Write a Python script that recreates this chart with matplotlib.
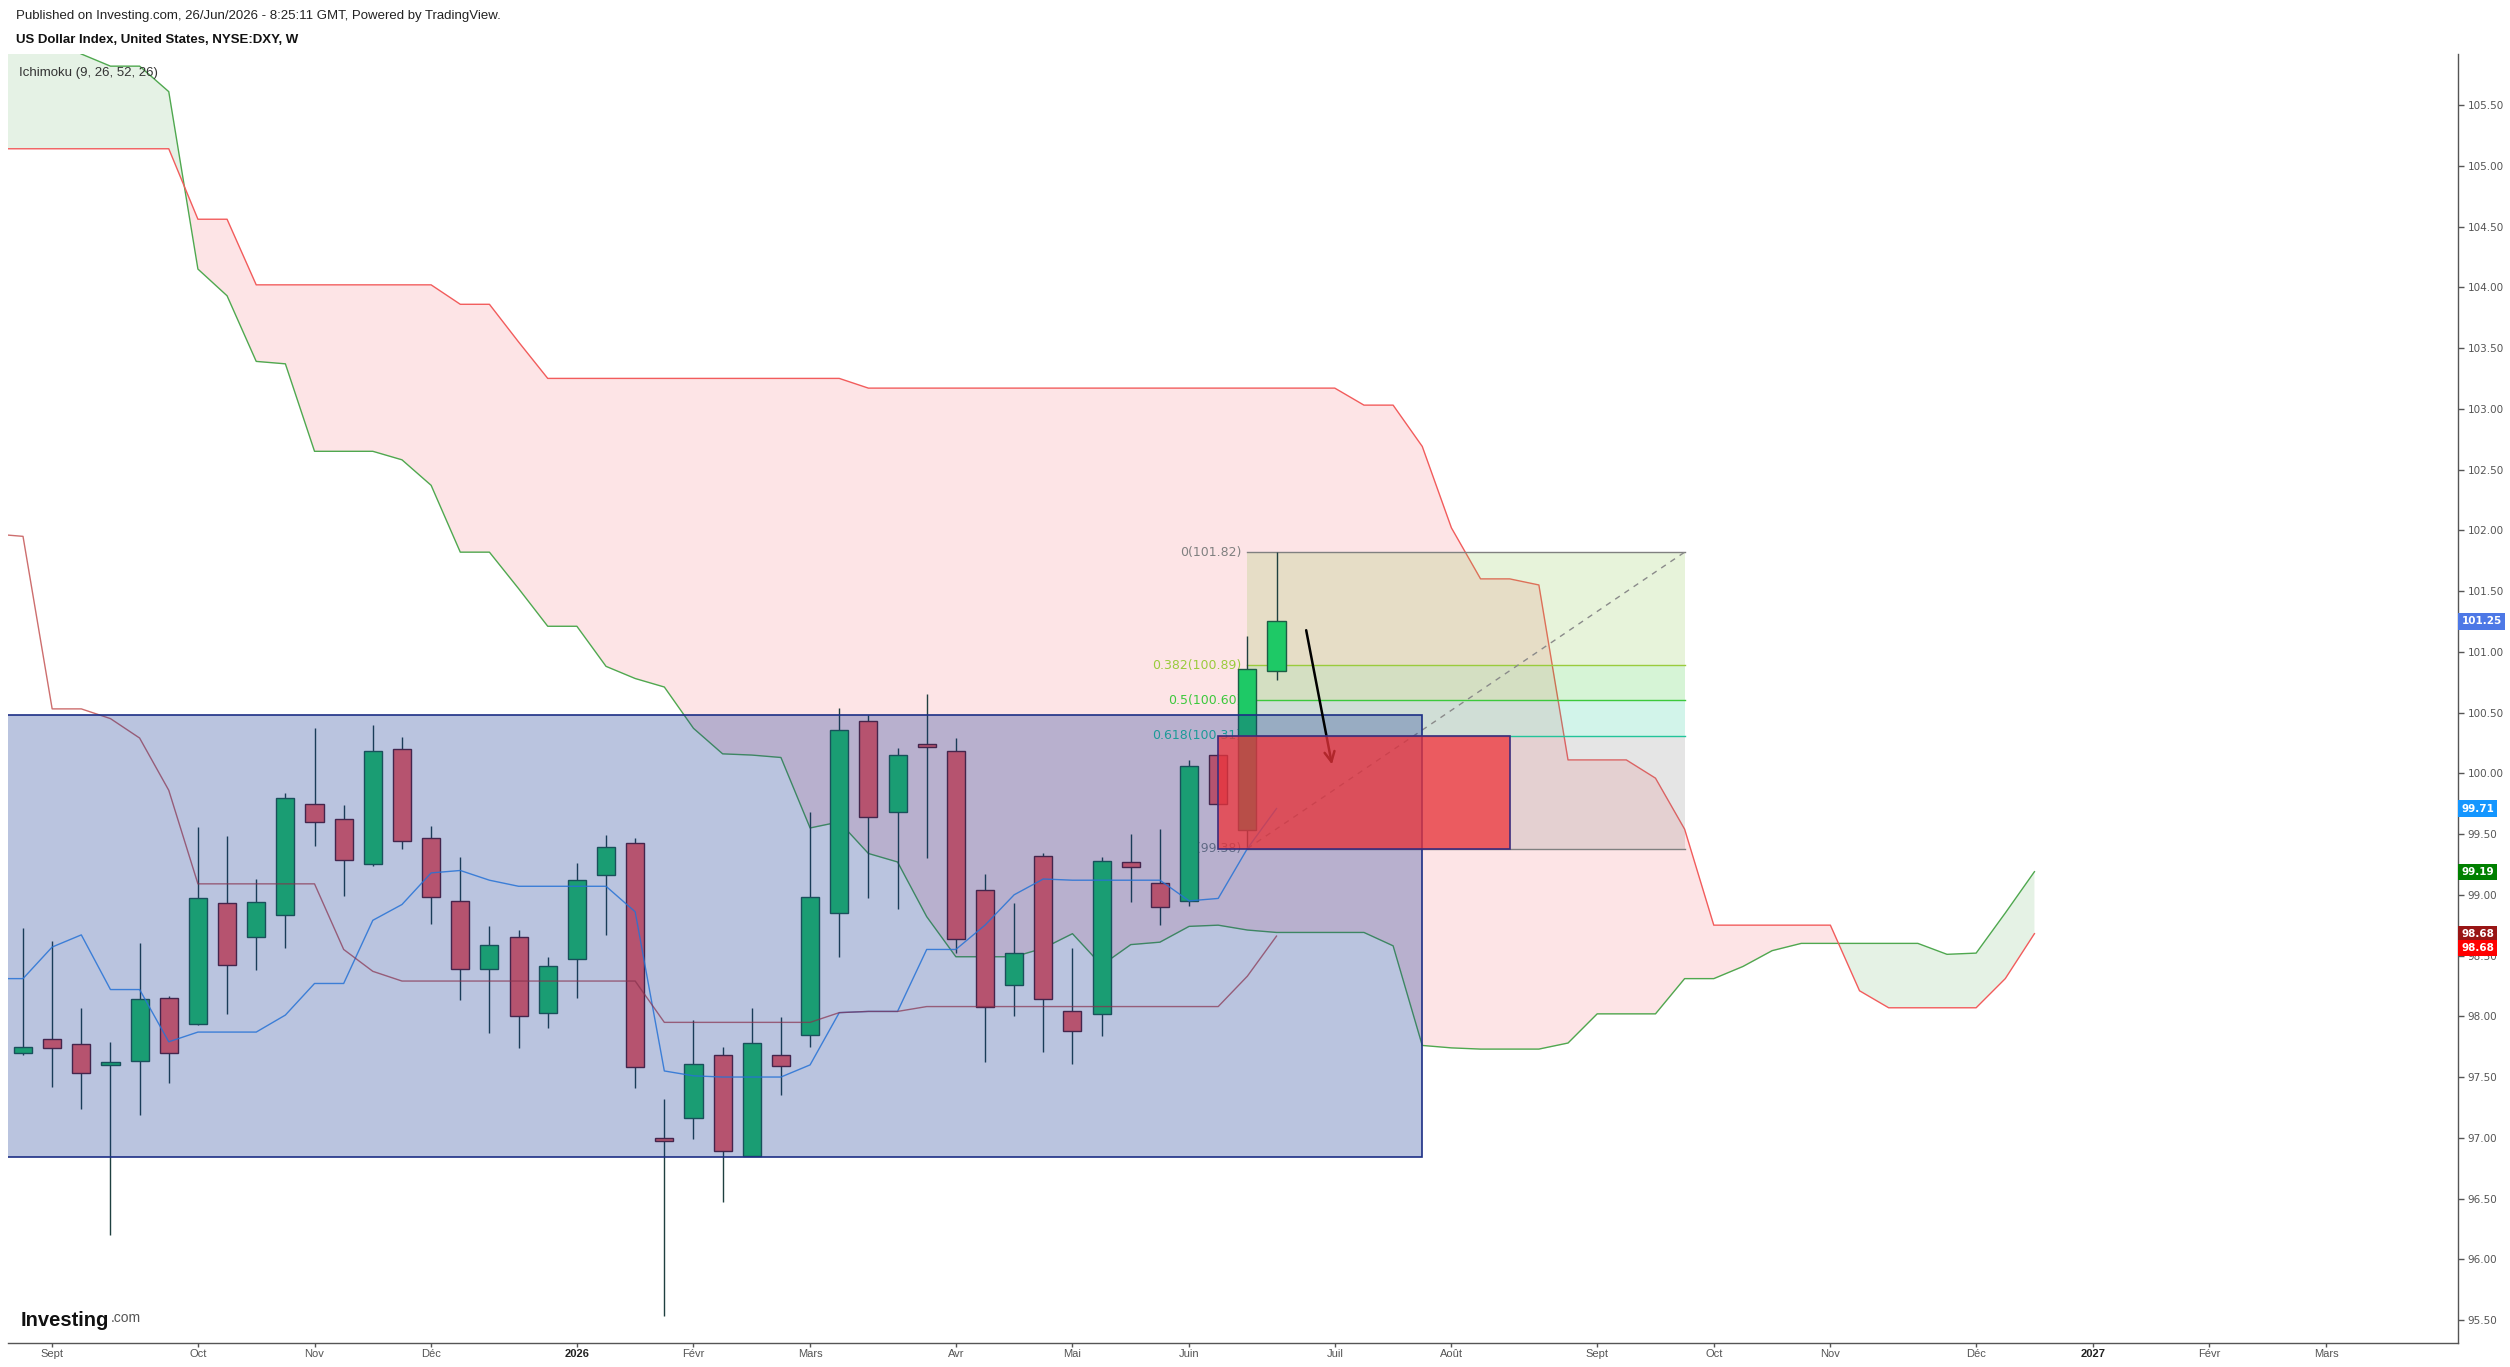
import numpy as np
import matplotlib.pyplot as plt
from matplotlib.patches import Rectangle

# weekly bars, bar 0 = week of 25 Aug 2025, bar 43 = week of 22 Jun 2026
opens = [97.70, 97.81, 97.77, 97.60, 97.63, 98.15, 97.94, 98.93, 98.65, 98.83,
         99.75, 99.62, 99.25, 100.20, 99.47, 98.95, 98.39, 98.65, 98.03, 98.47,
         99.16, 99.43, 97.00, 97.16, 97.68, 96.85, 97.68, 97.85, 98.85, 100.43,
         99.68, 100.23, 100.18, 99.04, 98.26, 99.32, 98.04, 98.02, 99.27, 99.10,
         98.95, 100.15, 99.53, 100.84]
highs = [98.73, 98.62, 98.07, 97.79, 98.60, 98.17, 99.56, 99.48, 99.13, 99.84,
         100.37, 99.74, 100.40, 100.30, 99.57, 99.31, 98.74, 98.71, 98.49, 99.26,
         99.49, 99.47, 97.32, 97.97, 97.75, 98.07, 97.99, 99.68, 100.54, 100.48,
         100.21, 100.65, 100.29, 99.17, 98.93, 99.34, 98.56, 99.31, 99.50, 99.54,
         100.11, 100.16, 101.13, 101.82]
lows = [97.68, 97.42, 97.24, 96.20, 97.19, 97.45, 97.93, 98.02, 98.38, 98.56,
        99.40, 98.99, 99.24, 99.38, 98.76, 98.13, 97.86, 97.74, 97.90, 98.15,
        98.67, 97.41, 95.53, 96.99, 96.47, 96.85, 97.35, 97.75, 98.49, 98.97,
        98.88, 99.30, 98.52, 97.62, 98.00, 97.71, 97.61, 97.84, 98.94, 98.75,
        98.91, 99.74, 99.38, 100.77]
closes = [97.75, 97.74, 97.53, 97.62, 98.14, 97.70, 98.97, 98.42, 98.94, 99.80,
          99.60, 99.29, 100.18, 99.44, 98.98, 98.39, 98.59, 98.00, 98.41, 99.12,
          99.39, 97.58, 96.97, 97.61, 96.89, 97.78, 97.59, 98.98, 100.36, 99.64,
          100.15, 100.22, 98.64, 98.08, 98.52, 98.14, 97.88, 99.28, 99.23, 98.90,
          100.06, 99.75, 100.86, 101.25]

# ichimoku lines, bar -1 .. 43
tenkan = [98.31, 98.31, 98.57, 98.67, 98.22, 98.22, 97.79, 97.87, 97.87, 97.87,
          98.01, 98.27, 98.27, 98.79, 98.92, 99.18, 99.20, 99.12, 99.07, 99.07,
          99.07, 99.07, 98.86, 97.55, 97.51, 97.50, 97.50, 97.50, 97.60, 98.03,
          98.04, 98.04, 98.55, 98.55, 98.75, 99.00, 99.13, 99.12, 99.12, 99.12,
          99.12, 98.95, 98.97, 99.38, 99.71]
kijun = [101.97, 101.95, 100.53, 100.53, 100.45, 100.29, 99.86, 99.09, 99.09, 99.09,
         99.09, 99.09, 98.55, 98.37, 98.29, 98.29, 98.29, 98.29, 98.29, 98.29,
         98.29, 98.29, 98.29, 97.95, 97.95, 97.95, 97.95, 97.95, 97.95, 98.03,
         98.04, 98.04, 98.08, 98.08, 98.08, 98.08, 98.08, 98.08, 98.08, 98.08,
         98.08, 98.08, 98.08, 98.33, 98.66]
# leading spans, bar -1 .. 69
span_a = [106.05, 106.05, 106.05, 105.92, 105.82, 105.82, 105.61, 104.15, 103.93, 103.39,
          103.37, 102.65, 102.65, 102.65, 102.58, 102.37, 101.82, 101.82, 101.52, 101.21,
          101.21, 100.88, 100.78, 100.71, 100.37, 100.16, 100.15, 100.13, 99.55, 99.60,
          99.34, 99.27, 98.82, 98.49, 98.49, 98.49, 98.56, 98.68, 98.42, 98.59,
          98.61, 98.74, 98.75, 98.71, 98.69, 98.69, 98.69, 98.69, 98.58, 97.76,
          97.74, 97.73, 97.73, 97.73, 97.78, 98.02, 98.02, 98.02, 98.31, 98.31,
          98.41, 98.54, 98.60, 98.60, 98.60, 98.60, 98.60, 98.51, 98.52, 98.85,
          99.19]
span_b = [105.14, 105.14, 105.14, 105.14, 105.14, 105.14, 105.14, 104.56, 104.56, 104.02,
          104.02, 104.02, 104.02, 104.02, 104.02, 104.02, 103.86, 103.86, 103.55, 103.25,
          103.25, 103.25, 103.25, 103.25, 103.25, 103.25, 103.25, 103.25, 103.25, 103.25,
          103.17, 103.17, 103.17, 103.17, 103.17, 103.17, 103.17, 103.17, 103.17, 103.17,
          103.17, 103.17, 103.17, 103.17, 103.17, 103.17, 103.17, 103.03, 103.03, 102.69,
          102.02, 101.60, 101.60, 101.55, 100.11, 100.11, 100.11, 99.96, 99.54, 98.75,
          98.75, 98.75, 98.75, 98.75, 98.21, 98.07, 98.07, 98.07, 98.07, 98.31,
          98.68]

# drawings
range_box = (-1, 48, 96.84, 100.48)     # start bar, end bar, low, high
sell_box = (41, 51, 99.38, 100.31)
fib_start, fib_end = 42, 57
fib_ratios = ['0', '0.382', '0.5', '0.618', '1']
fib_prices = [101.82, 100.89, 100.60, 100.31, 99.38]
arrow_from = (44.0, 101.20)
arrow_to = (44.92, 100.05)

month_pos = [1, 6, 10, 14, 19, 23, 27, 32, 36, 40, 45, 49, 54, 58, 62, 67, 71, 75, 79]
month_labels = ['Sept', 'Oct', 'Nov', 'Déc', '2026', 'Févr', 'Mars', 'Avr', 'Mai', 'Juin',
                'Juil', 'Août', 'Sept', 'Oct', 'Nov', 'Déc', '2027', 'Févr', 'Mars']

tags = [(101.25, '#4d78e6', 0), (99.71, '#1496ff', 0), (99.19, '#008000', 0),
        (98.68, '#991515', 0), (98.68, '#ff0000', -10.5)]

W, H = 2510, 1367
fig = plt.figure(figsize=(W / 100, H / 100), dpi=100)
ax = fig.add_axes([8 / W, 24 / H, 2450 / W, 1289 / H])

xc = np.arange(-1, len(span_a) - 1)
a = np.array(span_a)
b = np.array(span_b)
ax.fill_between(xc, a, b, where=a >= b, interpolate=True, color='#e5f2e5', lw=0, zorder=1)
ax.fill_between(xc, a, b, where=a < b, interpolate=True, color='#fde4e6', lw=0, zorder=1)
ax.plot(xc, a, color='#4fa84f', lw=1, zorder=2)
ax.plot(xc, b, color='#f25c5c', lw=1, zorder=2)

# fibonacci retracement
fib_line_cols = ['#808080', '#9acb3c', '#3cc83c', '#22c49a', '#808080']
fib_fill_cols = ['#8bc34a', '#33cc33', '#20c997', '#808080']
for k in range(4):
    ax.fill_between([fib_start, fib_end], fib_prices[k + 1], fib_prices[k],
                    color=fib_fill_cols[k], alpha=0.2, lw=0, zorder=3)
for r, p, c in zip(fib_ratios, fib_prices, fib_line_cols):
    ax.plot([fib_start, fib_end], [p, p], color=c, lw=1, zorder=4)
    ax.text(fib_start - 0.2, p, f'{r}({p:.2f})', color=c, fontsize=9,
            ha='right', va='center', zorder=4)
ax.plot([fib_start, fib_end], [fib_prices[-1], fib_prices[0]], color='#8a8a8a',
        lw=1, ls=(0, (4, 4)), zorder=4)

# candles
o = np.array(opens)
c = np.array(closes)
x = np.arange(len(opens))
up = c >= o
body_col = np.where(up, '#1ec966', '#fa6060')
edge_col = np.where(up, '#1d5c45', '#5a1f30')
ax.vlines(x, lows, highs, color='#1f4040', lw=1, zorder=5)
ax.bar(x, np.maximum(np.abs(c - o), 0.025), bottom=np.minimum(o, c), width=0.62,
       color=body_col, edgecolor=edge_col, linewidth=1, zorder=6)

xl = np.arange(-1, len(tenkan) - 1)
ax.plot(xl, tenkan, color='#2f8cf0', lw=1, alpha=0.85, zorder=7)
ax.plot(xl, kijun, color='#b83030', lw=1, alpha=0.7, zorder=7)

ax.add_patch(Rectangle((range_box[0], range_box[2]), range_box[1] - range_box[0],
                       range_box[3] - range_box[2], facecolor=(17 / 255, 52 / 255, 148 / 255, 0.29),
                       edgecolor='#1c2f85', lw=1.2, zorder=8))
ax.annotate('', xy=arrow_to, xytext=arrow_from,
            arrowprops=dict(arrowstyle='->', color='black', lw=1.8, mutation_scale=18),
            zorder=9)
ax.add_patch(Rectangle((sell_box[0], sell_box[2]), sell_box[1] - sell_box[0],
                       sell_box[3] - sell_box[2], facecolor=(238 / 255, 52 / 255, 58 / 255, 0.75),
                       edgecolor='#3c2c7c', lw=1.2, zorder=10))

ax.set_xlim(-0.515, 83.53)
ax.set_ylim(95.311, 105.92)

ax.yaxis.tick_right()
ax.set_yticks(np.arange(95.5, 105.51, 0.5))
ax.set_yticklabels([f'{v:.2f}' for v in np.arange(95.5, 105.51, 0.5)])
ax.tick_params(axis='y', length=4, width=1, colors='#555555', labelsize=7.5, pad=3)
ax.set_xticks(month_pos)
ax.set_xticklabels(month_labels, family=['Liberation Sans', 'DejaVu Sans'])
ax.tick_params(axis='x', length=3, width=1, colors='#555555', labelsize=8, pad=1.5)
for lab in ax.get_xticklabels():
    if lab.get_text() in ('2026', '2027'):
        lab.set_fontweight('bold')
        lab.set_color('#222222')

for s in ('top', 'left'):
    ax.spines[s].set_visible(False)
for s in ('right', 'bottom'):
    ax.spines[s].set_color('#555555')
    ax.spines[s].set_linewidth(1)

for val, col, dy in tags:
    ax.annotate(f'{val:.2f}', xy=(1, val), xycoords=('axes fraction', 'data'),
                xytext=(2.5, dy), textcoords='offset points', ha='left', va='center',
                color='white', fontsize=7.5, fontweight='bold', zorder=20,
                annotation_clip=False,
                bbox=dict(boxstyle='square,pad=0.3', fc=col, ec='none'))

sans = ['Liberation Sans', 'DejaVu Sans']
fig.text(16 / W, 1 - 16 / H,
         'Published on Investing.com, 26/Jun/2026 - 8:25:11 GMT, Powered by TradingView.',
         fontsize=9.5, family=sans, va='center', color='#222222')
fig.text(16 / W, 1 - 40 / H, 'US Dollar Index, United States, NYSE:DXY, W',
         fontsize=9.5, family=sans, fontweight='bold', va='center', color='#111111')
ax.text(0.0045, 0.985, 'Ichimoku (9, 26, 52, 26)', transform=ax.transAxes,
        fontsize=9.5, family=sans, va='center', color='#333333', zorder=20)

logo = fig.text(21 / W, 1 - 1320 / H, 'Investing', fontsize=14.5, family=sans,
                fontweight='bold', va='center', color='#111111')
fig.canvas.draw()
ax.annotate('.com', xy=(1, 0), xycoords=logo, xytext=(1, 3.2), textcoords='offset points',
            fontsize=10, family=sans, color='#555555', ha='left', va='bottom')

fig.savefig('out.png', dpi=100, facecolor='white')
